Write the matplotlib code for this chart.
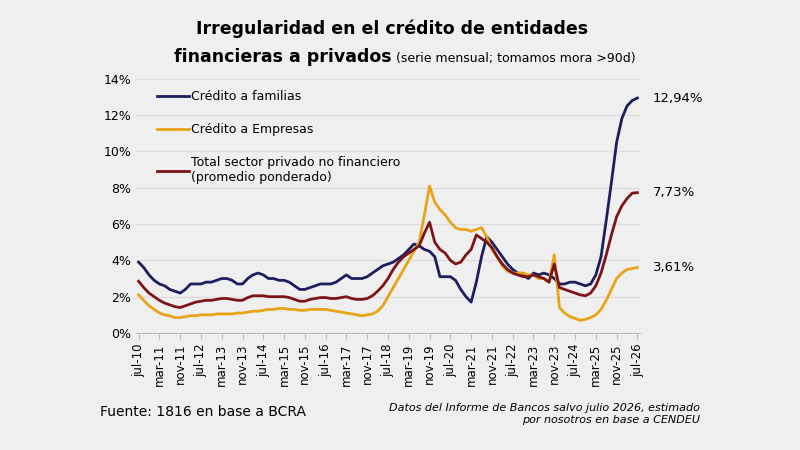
import matplotlib.pyplot as plt
import numpy as np

familias = [3.9, 3.6, 3.2, 2.9, 2.7, 2.6, 2.4, 2.3, 2.2, 2.4, 2.7, 2.7,
            2.7, 2.8, 2.8, 2.9, 3.0, 3.0, 2.9, 2.7, 2.7, 3.0, 3.2, 3.3,
            3.2, 3.0, 3.0, 2.9, 2.9, 2.8, 2.6, 2.4, 2.4, 2.5, 2.6, 2.7,
            2.7, 2.7, 2.8, 3.0, 3.2, 3.0, 3.0, 3.0, 3.1, 3.3, 3.5, 3.7,
            3.8, 3.9, 4.1, 4.3, 4.6, 4.9, 4.8, 4.6, 4.5, 4.2, 3.1, 3.1,
            3.1, 2.9, 2.4, 2.0, 1.7, 2.8, 4.2, 5.3, 5.0, 4.6, 4.2, 3.8,
            3.5, 3.3, 3.2, 3.0, 3.3, 3.2, 3.3, 3.2, 3.0, 2.7, 2.7, 2.8,
            2.8, 2.7, 2.6, 2.7, 3.2, 4.2, 6.2, 8.3, 10.5, 11.8, 12.5, 12.8, 12.94]
empresas = [2.1, 1.8, 1.5, 1.3, 1.1, 1.0, 0.95, 0.85, 0.85, 0.9, 0.95, 0.95,
            1.0, 1.0, 1.0, 1.05, 1.05, 1.05, 1.05, 1.1, 1.1, 1.15, 1.2, 1.2,
            1.25, 1.3, 1.3, 1.35, 1.35, 1.3, 1.3, 1.25, 1.25, 1.3, 1.3, 1.3,
            1.3, 1.25, 1.2, 1.15, 1.1, 1.05, 1.0, 0.95, 1.0, 1.05, 1.2, 1.5,
            2.0, 2.5, 3.0, 3.5, 4.0, 4.5, 5.0, 6.5, 8.1, 7.2, 6.8, 6.5,
            6.1, 5.8, 5.7, 5.7, 5.6, 5.7, 5.8, 5.3, 4.6, 4.2, 3.7, 3.4,
            3.3, 3.3, 3.3, 3.2, 3.2, 3.0, 3.0, 2.8, 4.3, 1.4, 1.1, 0.9,
            0.8, 0.7, 0.75, 0.85, 1.0, 1.3, 1.8, 2.4, 3.0, 3.3, 3.5, 3.55, 3.61]
total = [2.85, 2.5, 2.2, 2.0, 1.8, 1.65, 1.55, 1.45, 1.4, 1.5, 1.6, 1.7,
         1.75, 1.8, 1.8, 1.85, 1.9, 1.9, 1.85, 1.8, 1.8, 1.95, 2.05, 2.05,
         2.05, 2.0, 2.0, 2.0, 2.0, 1.95, 1.85, 1.75, 1.75, 1.85, 1.9, 1.95,
         1.95, 1.9, 1.9, 1.95, 2.0, 1.9, 1.85, 1.85, 1.9, 2.05, 2.3, 2.6,
         3.0, 3.5, 3.9, 4.2, 4.4, 4.6, 4.8, 5.5, 6.1, 5.0, 4.6, 4.4,
         4.0, 3.8, 3.9, 4.3, 4.6, 5.4, 5.2, 5.0, 4.7, 4.2, 3.8, 3.5,
         3.3, 3.2, 3.1, 3.1, 3.2, 3.1, 3.0, 2.8, 3.8, 2.5, 2.4, 2.3,
         2.2, 2.1, 2.05, 2.2, 2.6, 3.3, 4.3, 5.4, 6.4, 7.0, 7.4, 7.7, 7.73]

tick_labels = ['jul-10', 'mar-11', 'nov-11', 'jul-12', 'mar-13', 'nov-13', 'jul-14',
               'mar-15', 'nov-15', 'jul-16', 'mar-17', 'nov-17', 'jul-18', 'mar-19',
               'nov-19', 'jul-20', 'mar-21', 'nov-21', 'jul-22', 'mar-23', 'nov-23',
               'jul-24', 'mar-25', 'nov-25', 'jul-26']

bg = '#efefef'
fig = plt.figure(figsize=(8, 4.5), dpi=100, facecolor=bg)
ax = fig.add_axes([0.17, 0.26, 0.63, 0.565])
ax.set_facecolor(bg)

series = [(familias, '#1c1f5c', 'Crédito a familias'),
          (empresas, '#e8a317', 'Crédito a Empresas'),
          (total, '#7b1518', 'Total sector privado no financiero\n(promedio ponderado)')]
for vals, col, lab in series:
    x = np.arange(len(vals)) * 2
    ax.plot(x, vals, color=col, lw=2, label=lab)
    ax.text(x[-1] + 6, vals[-1], f'{vals[-1]:.2f}%'.replace('.', ','), va='center', fontsize=9.5)

ax.set_ylim(0, 14)
ax.set_xlim(-1, 193)
ax.set_yticks(range(0, 15, 2))
ax.set_yticklabels([f'{v}%' for v in range(0, 15, 2)], fontsize=9)
ax.set_xticks(np.arange(len(tick_labels)) * 8)
ax.set_xticklabels(tick_labels, rotation=90, fontsize=8.5)
ax.grid(axis='y', color='#dddddd', lw=1)
ax.set_axisbelow(True)
for s in ['top', 'right', 'left']:
    ax.spines[s].set_visible(False)
ax.spines['bottom'].set_color('#bbbbbb')
ax.tick_params(axis='y', length=0)
ax.tick_params(axis='x', color='#bbbbbb', length=4)

ax.legend(loc='upper left', frameon=False, fontsize=9, handlelength=2.5,
          handletextpad=0.2, labelspacing=1.6, bbox_to_anchor=(0.02, 1.0))

fig.text(0.49, 0.925, 'Irregularidad en el crédito de entidades', ha='center',
         fontsize=12.5, fontweight='bold')
fig.text(0.49, 0.862, 'financieras a privados', ha='right', fontsize=12.5, fontweight='bold')
fig.text(0.495, 0.862, '(serie mensual; tomamos mora >90d)', ha='left', fontsize=9)
fig.text(0.125, 0.075, 'Fuente: 1816 en base a BCRA', fontsize=10)
fig.text(0.875, 0.06, 'Datos del Informe de Bancos salvo julio 2026, estimado\npor nosotros en base a CENDEU',
         ha='right', fontsize=8, style='italic')

fig.savefig('out.png', facecolor=bg)
